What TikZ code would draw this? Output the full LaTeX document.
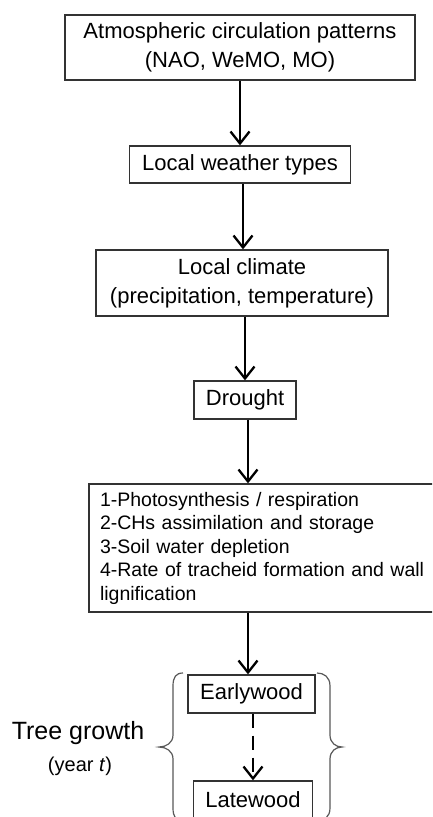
\documentclass[tikz,border=0pt]{standalone}
\usepackage{fontspec}
\setmainfont{Liberation Sans}
\usetikzlibrary{arrows.meta}
\tikzset{
  box/.style={draw=black!80, line width=1.3pt, rectangle, inner sep=0pt, align=center,
    font=\fontsize{22}{29}\selectfont},
  flow/.style={line width=2.3pt, -{Straight Barb[length=12pt,width=19pt,line width=2.3pt]}},
  dflow/.style={flow, dash pattern=on 14pt off 8pt},
  brace/.style={draw=black!65, line width=1.2pt},
}
\begin{document}
\begin{tikzpicture}[x=1pt,y=-1pt]
\useasboundingbox (0,0) rectangle (432,817);
\fill[white] (0,0) rectangle (432,817);
\clip (0,0) rectangle (432,817);
\node[box, minimum width=350pt, minimum height=65pt] (atm) at (240,47.5)
  {Atmospheric circulation patterns\\(NAO, WeMO, MO)};
\node[box, minimum width=221pt, minimum height=37pt] (lwt) at (240,164.5)
  {Local weather types};
\node[box, minimum width=292pt, minimum height=66pt] (clim) at (242,283)
  {Local climate\\(precipitation, temperature)};
\node[box, minimum width=102pt, minimum height=38pt] (dr) at (245,400)
  {Drought};
\node[box, minimum height=128pt, text width=340pt, inner xsep=11pt, align=left,
  font=\fontsize{19.5}{23.5}\selectfont] (proc) at (270,548)
  {1-Photosynthesis / respiration\\2-CHs assimilation and storage\\3-Soil water depletion\\4-Rate of tracheid formation and wall\\lignification};
\node[box, minimum width=127pt, minimum height=38pt] (ew) at (251.5,694)
  {Earlywood};
\node[box, minimum width=119pt, minimum height=38pt] (lw) at (253,800)
  {Latewood};
\node[font=\fontsize{25}{30}\selectfont] (tg) at (78,733) {Tree growth};
\node[font=\fontsize{20}{24}\selectfont] (yr) at (80,766) {(year \textit{t})};

\draw[flow] (atm.south -| lwt.north) -- (lwt.north);
\draw[flow] (lwt.south -| 243,0) -- (243,0 |- clim.north);
\draw[flow] (clim.south -| dr.north) -- (dr.north);
\draw[flow] (dr.south -| 248,0) -- (248,0 |- proc.north);
\draw[flow] (proc.south -| 248,0) -- (248,0 |- ew.north);
\draw[dflow] (ew.south -| lw.north) -- (lw.north);

\draw[brace] (183,673) .. controls (176,673) and (173,677) .. (173,686) -- (173,735)
  .. controls (173,743) and (166,747) .. (159,747)
  .. controls (166,747) and (173,751) .. (173,759) -- (173,808)
  .. controls (173,817) and (176,821) .. (183,821);
\draw[brace] (317,673) .. controls (324,673) and (330,677) .. (330,686) -- (330,735)
  .. controls (330,743) and (336,747) .. (342,747)
  .. controls (336,747) and (330,751) .. (330,759) -- (330,808)
  .. controls (330,817) and (324,821) .. (317,821);
\end{tikzpicture}
\end{document}
